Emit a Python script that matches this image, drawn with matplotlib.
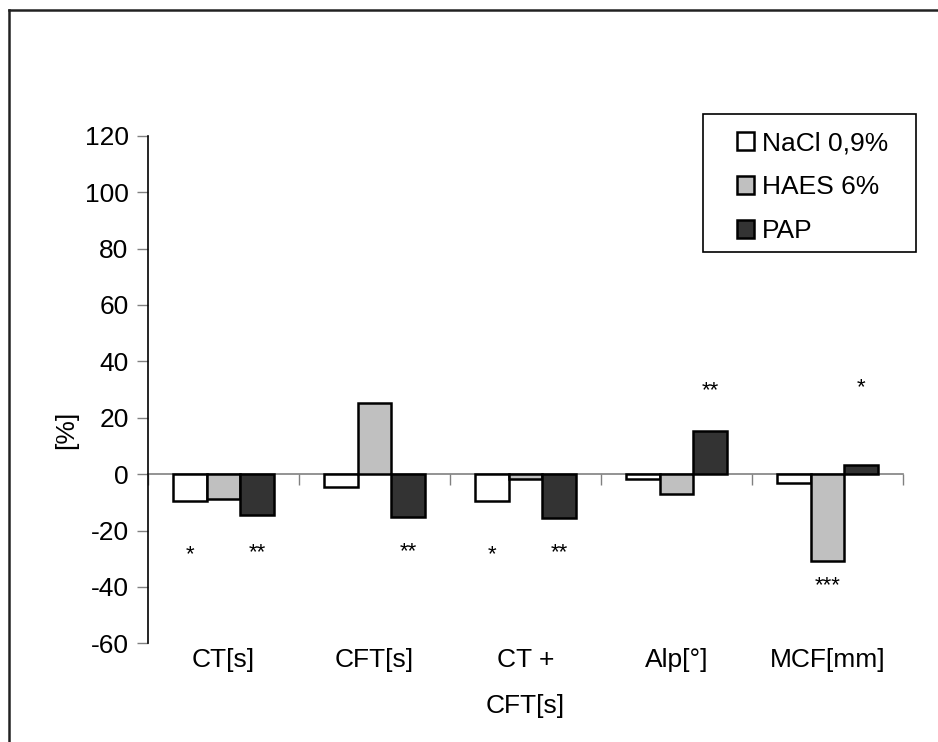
import numpy as np
import matplotlib
matplotlib.use('Agg')
import matplotlib.pyplot as plt
from matplotlib.patches import Rectangle
from matplotlib.lines import Line2D
from matplotlib.transforms import blended_transform_factory

plt.rcParams['font.family'] = ['Liberation Sans', 'DejaVu Sans']
plt.rcParams['axes.unicode_minus'] = False

categories = ['CT[s]', 'CFT[s]', 'CT +\nCFT[s]', 'Alp[°]', 'MCF[mm]']
series = ['NaCl 0,9%', 'HAES 6%', 'PAP']
nacl = [-9.5, -4.7, -9.5, -1.8, -3.0]
haes = [-8.9, 25.2, -1.8, -7.2, -30.9]
pap = [-14.6, -15.2, -15.7, 15.4, 3.2]
colors = ['#FFFFFF', '#C0C0C0', '#333333']

# significance marks: (category, series, text, y)
stars = [(0, 0, '*', -28.5), (0, 2, '**', -28),
         (1, 2, '**', -27.5),
         (2, 0, '*', -28.5), (2, 2, '**', -28),
         (3, 2, '**', 29.5),
         (4, 2, '*', 30.5), (4, 1, '***', -39.5)]

fig = plt.figure(figsize=(9.38, 7.42), dpi=100)
ax = fig.add_axes([148/938, 1-643.3/742, 755/938, (643.3-135.7)/742])

x = np.arange(len(categories))
w = 0.225
for k, vals in enumerate([nacl, haes, pap]):
    ax.bar(x + (k-1)*w, vals, w, color=colors[k], edgecolor='black',
           linewidth=1.8, label=series[k], zorder=3)

for c, s, txt, yv in stars:
    ax.text(c + (s-1)*w, yv, txt, ha='center', va='center', fontsize=16)

ax.set_xlim(-0.5, len(categories)-0.5)
ax.set_ylim(-60, 120)
ax.set_yticks(np.arange(-60, 121, 20))
ax.tick_params(axis='y', length=8, width=1, color='#808080', labelsize=19, pad=6)
ax.set_ylabel('[%]', fontsize=19)
ax.yaxis.set_label_coords(-0.093, 0.42)

for side in ['top', 'right']:
    ax.spines[side].set_visible(False)
ax.spines['left'].set_linewidth(1.2)
ax.spines['bottom'].set_position(('data', 0))
ax.spines['bottom'].set_color('#808080')
ax.spines['bottom'].set_linewidth(1.2)
ax.spines['bottom'].set_zorder(2)
ax.set_xticks(np.arange(len(categories)+1) - 0.5)
ax.set_xticklabels([])
ax.tick_params(axis='x', length=8, width=1, color='#808080', direction='out')

trans = blended_transform_factory(ax.transData, ax.transAxes)
for i, lab in enumerate(categories):
    ax.text(i, -0.01, lab, transform=trans, ha='center', va='top',
            fontsize=19, linespacing=2.15)

# legend without frame, frame drawn separately
ax.legend(loc='upper left', bbox_to_anchor=(726/938, 1-121/742),
          bbox_transform=fig.transFigure, frameon=False, fontsize=19,
          handlelength=0.65, handleheight=0.65, handletextpad=0.3,
          labelspacing=0.75, borderaxespad=0)
fig.patches.append(Rectangle((703/938, 1-252/742), 213/938, 138/742,
                             transform=fig.transFigure, fill=False,
                             edgecolor='black', linewidth=1.2))

# outer frame (left and top edges only visible)
fig.add_artist(Line2D([8.5/938, 8.5/938], [0, 1-9.5/742],
                      transform=fig.transFigure, color='#222222', lw=1.8))
fig.add_artist(Line2D([8.5/938, 1], [1-9.5/742, 1-9.5/742],
                      transform=fig.transFigure, color='#222222', lw=1.8))

fig.savefig('out.png', dpi=100)
